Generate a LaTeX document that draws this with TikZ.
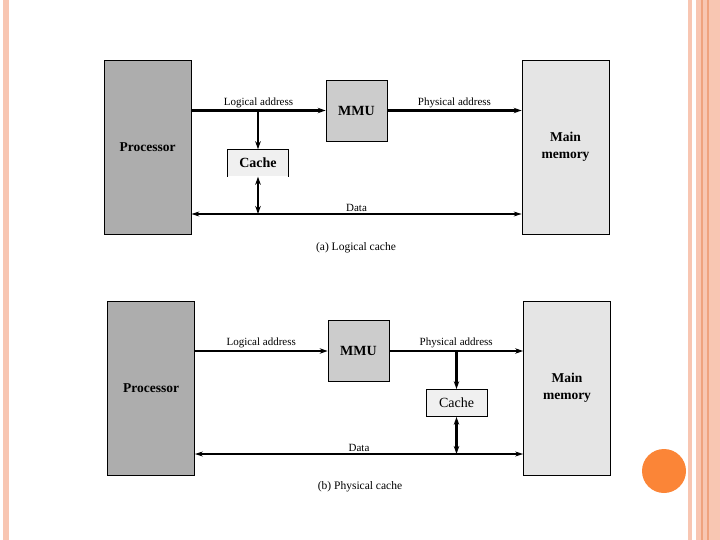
\documentclass[tikz,border=0pt]{standalone}
\usepackage{fontspec}
\setmainfont{Liberation Serif}
\usetikzlibrary{arrows.meta}

\definecolor{procgray}{gray}{0.68}
\definecolor{mmugray}{gray}{0.80}
\definecolor{memgray}{gray}{0.90}
\definecolor{cachegray}{gray}{0.94}
\definecolor{stripe}{HTML}{F8C6B2}
\definecolor{stripedark}{HTML}{EFA27E}
\definecolor{dotorange}{HTML}{FB8537}

\begin{document}
\begin{tikzpicture}[x=1pt,y=-1pt,
    box/.style={draw, line width=0.8pt, inner sep=0pt, align=center},
    bigbox/.style={box, minimum width=87pt, minimum height=174pt, font=\fontsize{13.5}{17}\selectfont\bfseries},
    mmubox/.style={box, fill=mmugray, minimum width=61pt, minimum height=61pt, font=\fontsize{14}{16}\selectfont\bfseries},
    cachebox/.style={inner sep=0pt, fill=cachegray, minimum width=61pt, minimum height=27pt, font=\fontsize{14}{16}\selectfont},
    bus/.style={line width=2.2pt, -{Stealth[length=8pt,width=5.5pt]}},
    busboth/.style={line width=2.2pt, {Stealth[length=8pt,width=5.5pt]}-{Stealth[length=8pt,width=5.5pt]}},
    data/.style={line width=1.1pt, {Stealth[length=8pt,width=5pt]}-{Stealth[length=8pt,width=5pt]}},
    lbl/.style={font=\fontsize{11}{13}\selectfont, inner sep=2pt},
    caption/.style={font=\fontsize{11.5}{13}\selectfont}
]
\useasboundingbox (0,0) rectangle (720,540);

% slide decoration
\fill[stripe] (3,0) rectangle (9,540);
\fill[stripe] (688,0) rectangle (692,540);
\fill[stripe] (696,0) rectangle (720,540);
\draw[stripedark, line width=1.5pt] (702,0) -- (702,540);
\draw[stripedark, line width=1.2pt] (708,0) -- (708,540);
\fill[dotorange] (664,471) circle (22);

% (a) logical cache
\node[bigbox, fill=procgray] (proca) at (147.5,147) {Processor};
\node[mmubox] (mmua) at (356.5,110.5) {MMU};
\node[bigbox, fill=memgray] (mema) at (565.5,147) {Main\\memory};
\node[cachebox, font=\fontsize{14}{16}\selectfont\bfseries] (cachea) at (258,163) {Cache};
\draw[line width=0.8pt] (cachea.south west) |- (cachea.north east) -- (cachea.south east);
\coordinate (dataa) at (258,214);

\draw[bus] (mmua.west -| proca.east) -- node[lbl, above] (lla) {Logical address} (mmua.west);
\draw[bus] (mmua.east) -- node[lbl, above] (pla) {Physical address} (mmua.east -| mema.west);
\draw[bus] (cachea.north |- mmua.west) -- (cachea.north);
\draw[data] (dataa -| proca.east) -- node[lbl, above] (dla) {Data} (dataa -| mema.west);
\draw[busboth] (cachea.south) -- (dataa);
\node[caption] (capa) at (356,248) {(a) Logical cache};

% (b) physical cache
\node[bigbox, fill=procgray] (procb) at (151,388) {Processor};
\node[mmubox] (mmub) at (358.5,351) {MMU};
\node[bigbox, fill=memgray] (memb) at (567,388) {Main\\memory};
\node[cachebox, box] (cacheb) at (456.5,403) {Cache};
\coordinate (datab) at (456.5,454);

\draw[bus] (mmub.west -| procb.east) -- node[lbl, above] (llb) {Logical address} (mmub.west);
\draw[bus] (mmub.east) -- node[lbl, above] (plb) {Physical address} (mmub.east -| memb.west);
\draw[bus] (cacheb.north |- mmub.west) -- (cacheb.north);
\draw[data] (datab -| procb.east) -- node[lbl, above] (dlb) {Data} (datab -| memb.west);
\draw[busboth] (cacheb.south) -- (datab);
\node[caption] (capb) at (360,487) {(b) Physical cache};
\end{tikzpicture}
\end{document}
